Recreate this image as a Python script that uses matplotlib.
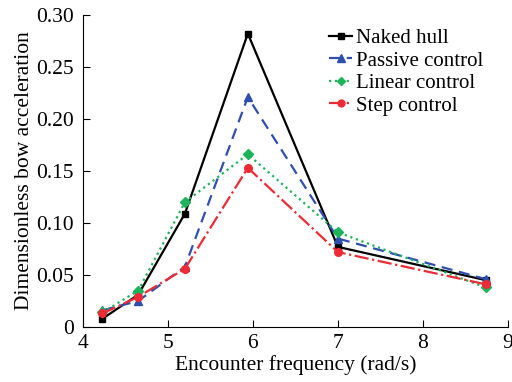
import matplotlib
matplotlib.use("Agg")
import matplotlib.pyplot as plt

freq = [4.23, 4.65, 5.2, 5.94, 7.0, 8.74]
naked = [0.008, 0.031, 0.109, 0.282, 0.077, 0.045]
passive = [0.016, 0.025, 0.058, 0.221, 0.085, 0.046]
linear = [0.014, 0.035, 0.120, 0.166, 0.091, 0.038]
step = [0.013, 0.029, 0.056, 0.153, 0.072, 0.041]
labels = ["Naked hull", "Passive control", "Linear control", "Step control"]

plt.rcParams['font.family'] = ['Liberation Serif', 'DejaVu Serif']
fig = plt.figure(figsize=(5.12, 3.82), dpi=100)
ax = fig.add_axes([0.162, 0.144, 0.830, 0.817])

ax.plot(freq, naked, color='black', linestyle='-', marker='s', markersize=5, lw=1.6, label=labels[0])
ax.plot(freq, passive, color='#2f4fb0', linestyle=(0, (5, 3)), marker='^', markersize=6, lw=1.6, label=labels[1])
ax.plot(freq, linear, color='#1db35a', linestyle=':', marker='D', markersize=5, lw=1.6, label=labels[2])
ax.plot(freq, step, color='#ee2a35', linestyle='-.', marker='o', markersize=5.5, lw=1.6, label=labels[3])

ax.set_xlim(4, 9)
ax.set_ylim(0, 0.30)
ax.set_xticks([4, 5, 6, 7, 8, 9])
ax.set_yticks([0, 0.05, 0.10, 0.15, 0.20, 0.25, 0.30])
ax.set_yticklabels(['0', '0.05', '0.10', '0.15', '0.20', '0.25', '0.30'])
ax.spines['top'].set_visible(False)
ax.spines['right'].set_visible(False)
ax.tick_params(direction='in', labelsize=15.5, length=5)
ax.tick_params(axis='y', pad=6.5)
ax.tick_params(axis='x', pad=5)
ax.set_xlabel('Encounter frequency (rad/s)', fontsize=15.5, labelpad=1.5)
ax.set_ylabel('Dimensionless bow acceleration', fontsize=15.5, labelpad=1.5)
ax.legend(loc='upper left', bbox_to_anchor=(0.545, 1.003), frameon=False, fontsize=15,
          handlelength=1.1, handletextpad=0.2, labelspacing=0.14, borderaxespad=0.3,
          markerscale=0.9)

fig.savefig('out.png', dpi=100)
